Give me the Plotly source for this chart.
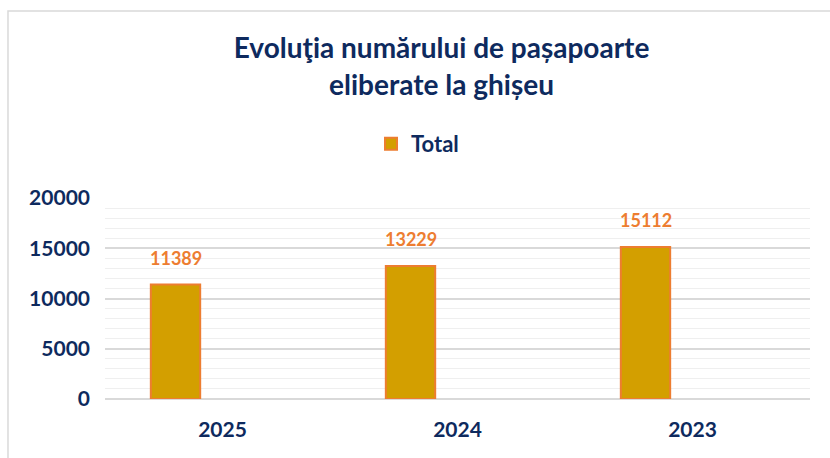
import plotly.graph_objects as go

# date din grafic
years = ["2025", "2024", "2023"]
totals = [11389, 13229, 15112]
series_name = "Total"
title_text = "Evoluţia numărului de pașapoarte<br>eliberate la ghișeu"

NAVY = "#0E2A5E"
GOLD = "#D39F00"
ORANGE = "#ED7D31"
FONT = "Lato, Open Sans, sans-serif"

fig = go.Figure()
fig.add_trace(
    go.Bar(
        name=series_name,
        x=years,
        y=totals,
        width=0.21,
        offset=-0.305,
        marker=dict(color=GOLD, line=dict(color=ORANGE, width=2)),
        showlegend=True,
    )
)

# etichete valori deasupra barelor (x = indexul categoriei)
for i, v in enumerate(totals):
    fig.add_annotation(
        x=i, y=v, text=f"<b>{v}</b>", showarrow=False,
        xshift=-47, yshift=27,
        font=dict(family=FONT, size=18, color=ORANGE),
    )

# chenar exterior
fig.add_shape(
    type="rect", xref="paper", yref="paper",
    x0=-0.1376, x1=1.05, y0=-0.5, y1=1.93,
    line=dict(color="#D9D9D9", width=1.5), fillcolor="rgba(0,0,0,0)",
    layer="below",
)

fig.update_layout(
    width=830,
    height=458,
    title=dict(
        text=f"<b>{title_text}</b>",
        x=0.532, xanchor="center", y=0.873, yanchor="top",
        font=dict(family=FONT, size=28, color=NAVY),
    ),
    font=dict(family=FONT, color=NAVY),
    legend=dict(
        orientation="h", xref="container", yref="container",
        x=0.447, xanchor="left", y=0.6856, yanchor="middle",
        font=dict(size=22, color=NAVY, weight="bold"),
        itemwidth=30,
    ),
    plot_bgcolor="white",
    paper_bgcolor="white",
    margin=dict(l=105, r=20, t=198, b=59),
    xaxis=dict(
        type="category",
        categoryorder="array",
        categoryarray=years,
        range=[-0.5, 2.5],
        showgrid=False,
        showline=False,
        ticks="",
        ticklabelstandoff=16,
        tickfont=dict(family=FONT, size=21, color=NAVY, weight="bold"),
    ),
    yaxis=dict(
        range=[0, 20000],
        dtick=5000,
        tickformat="d",
        gridcolor="#D9D9D9",
        gridwidth=1.5,
        zeroline=True,
        zerolinecolor="#D9D9D9",
        zerolinewidth=1.5,
        ticks="",
        ticklabelstandoff=14,
        tickfont=dict(family=FONT, size=21, color=NAVY, weight="bold"),
        minor=dict(dtick=1000, showgrid=True, gridcolor="#EFEFEF", gridwidth=1),
    ),
)

fig.write_html(
    "out.html",
    config={"displayModeBar": False},
    post_script="document.body.style.margin='0';",
)
